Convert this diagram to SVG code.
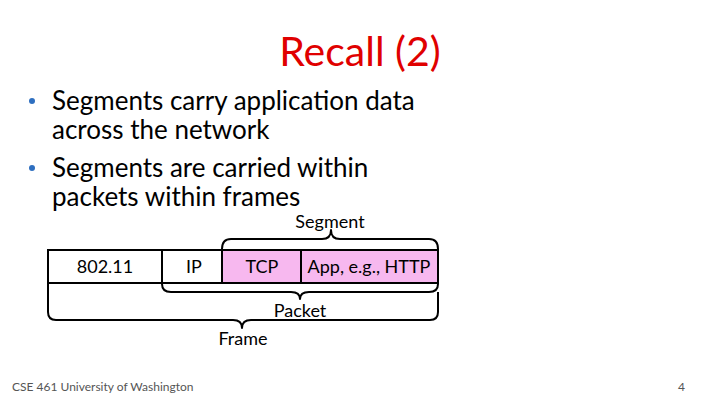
<svg xmlns="http://www.w3.org/2000/svg" width="720" height="405" viewBox="0 0 720 405">
<style>
text{font-family:Lato,"Open Sans","Liberation Sans",sans-serif}
.t{fill:#000;font-size:26px}
.b{fill:#000;font-size:18px;text-anchor:middle}
.lab{fill:#000;font-size:18px;text-anchor:middle}
.box{stroke:#000;stroke-width:2;fill:#fff}
.pk{fill:#f7b8ef}
.br{fill:none;stroke:#000;stroke-width:2;stroke-linejoin:round}
</style>
<rect width="720" height="405" fill="#fff"/>
<text x="360" y="66" text-anchor="middle" style="font-size:41px;fill:#e00000">Recall (2)</text>
<g id="bullets">
<circle cx="32" cy="101" r="3" fill="#2e6fc0"/>
<circle cx="32" cy="168" r="3" fill="#2e6fc0"/>
<text class="t" x="52" y="110">Segments carry application data</text>
<text class="t" x="52" y="139">across the network</text>
<text class="t" x="52" y="177">Segments are carried within</text>
<text class="t" x="52" y="206">packets within frames</text>
</g>
<g id="n-80211"><rect class="box" x="48" y="250" width="114" height="33"/><text class="b" x="105" y="273">802.11</text></g>
<g id="n-ip"><rect class="box" x="162" y="250" width="60" height="33"/><text class="b" x="194" y="273">IP</text></g>
<g id="n-tcp"><rect class="box pk" x="222" y="250" width="79" height="33"/><text class="b" x="262" y="273">TCP</text></g>
<g id="n-app"><rect class="box pk" x="301" y="250" width="137" height="33"/><text class="b" x="369" y="273">App, e.g., HTTP</text></g>
<g id="connectors">
<path class="br" d="M222,249 Q222,239 231,239 L322,239 Q331,239 331,230 Q331,239 340,239 L429,239 Q438,239 438,249"/>
<path class="br" d="M162,283 L162,284 Q162,292 171,292 L291,292 Q300,292 300,299 Q300,292 309,292 L429,292 Q438,292 438,284"/>
<path class="br" d="M48,283 L48,312 Q48,320 56,320 L233,320 Q242,320 242,328 Q242,320 251,320 L430,320 Q438,320 438,312 L438,292"/>
</g>
<g id="labels">
<text class="lab" x="330" y="228">Segment</text>
<text class="lab" x="300" y="317">Packet</text>
<text class="lab" x="243" y="345">Frame</text>
</g>
<text x="12" y="391" style="font-size:12px;fill:#555">CSE 461 University of Washington</text>
<text x="678" y="391" style="font-size:12px;fill:#555">4</text>
</svg>
